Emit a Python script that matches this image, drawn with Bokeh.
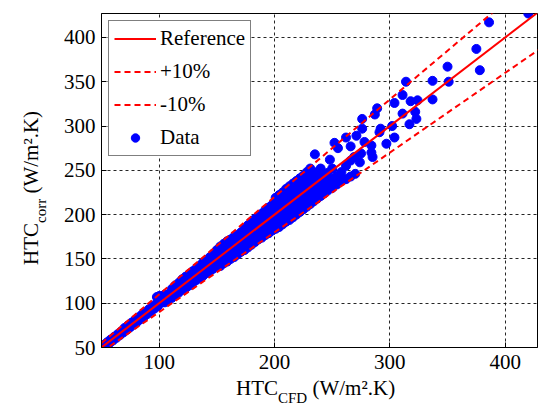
from bokeh.plotting import figure
from bokeh.layouts import column, row
from bokeh.models import Legend, LegendItem, FixedTicker, Range1d, Div
from bokeh.embed import file_html
from bokeh.resources import INLINE

# Heat transfer coefficient: CFD result vs. correlation (W/m2.K)
htc_cfd = [
    51, 52, 54, 55, 57, 58, 60, 61, 63, 64, 66, 67, 69, 70, 72, 73, 75, 76, 78, 79,
    81, 82, 84, 85, 87, 88, 90, 91, 93, 94, 96, 97, 98, 99, 100, 100, 101, 103, 104,
    105, 105, 105, 108, 108, 111, 111, 111, 114, 114, 114, 117, 117, 117, 120, 120, 120,
    123, 123, 123, 126, 126, 126, 129, 129, 129, 132, 132, 132, 135, 135, 135,
    138, 138, 138, 141, 141, 141, 144, 144, 144, 147, 147, 147, 150, 150, 150,
    153, 153, 153, 153, 156, 156, 156, 156, 159, 159, 159, 159, 162, 162, 162, 162, 165, 165, 165, 165,
    168, 168, 168, 168, 171, 171, 171, 171, 174, 174, 174, 174, 177, 177, 177, 177, 180, 180, 180, 180,
    183, 183, 183, 183, 186, 186, 186, 186, 189, 189, 189, 189, 192, 192, 192, 192, 195, 195, 195, 195, 198, 198, 198, 198,
    201, 201, 201, 201, 201, 204, 204, 204, 204, 204, 207, 207, 207, 207, 207, 210, 210, 210, 210, 210, 213, 213, 213, 213, 213,
    216, 216, 216, 216, 216, 219, 219, 219, 219, 219, 222, 222, 222, 222, 222, 225, 225, 225, 225, 225, 228, 228, 228, 228, 228,
    231, 231, 231, 231, 231, 234, 234, 234, 234, 237, 237, 237, 237, 240, 240, 240, 240, 243, 243, 243, 246, 246, 246,
    250, 250, 250, 254, 254, 258, 258, 262, 266, 270,
    420, 386, 375, 378, 350, 351, 337, 314, 337, 311, 318, 324, 304, 289, 287, 311, 322, 323, 317, 302,
    276, 276, 292, 291, 304, 262, 271, 252, 255, 235, 266, 278, 284, 297, 275, 284, 274, 285, 266, 248, 262, 269,
]
htc_corr = [
    50, 53, 52, 56, 55, 59, 58, 62, 61, 65, 64, 68, 67, 72, 70, 75, 73, 78, 76, 81,
    79, 84, 82, 87, 85, 90, 88, 93, 91, 96, 94, 99, 107, 97, 103, 108, 108, 101, 107,
    101, 106, 110, 104, 110, 106, 112, 116, 109, 115, 120, 112, 118, 123, 115, 121, 127,
    117, 124, 130, 120, 127, 133, 123, 130, 136, 126, 133, 139, 128, 136, 142,
    131, 139, 146, 134, 141, 149, 136, 144, 152, 139, 147, 156, 141, 149, 160,
    142, 150, 158, 164, 145, 153, 161, 167, 147, 156, 164, 170, 150, 158, 166, 172, 152, 161, 169, 175,
    155, 164, 172, 177, 158, 167, 175, 180, 160, 170, 178, 184, 163, 172, 181, 188, 166, 175, 184, 192,
    169, 178, 187, 195, 172, 181, 190, 198, 174, 184, 193, 201, 177, 187, 196, 205, 179, 190, 199, 208, 182, 192, 202, 211,
    184, 193, 203, 213, 219, 186, 196, 206, 215, 222, 189, 199, 209, 218, 225, 192, 202, 212, 221, 229, 194, 205, 215, 224, 232,
    197, 208, 218, 227, 235, 200, 211, 221, 230, 238, 203, 214, 224, 233, 241, 206, 216, 227, 236, 244, 209, 219, 230, 239, 248,
    212, 222, 232, 242, 252, 215, 225, 235, 245, 218, 228, 238, 248, 221, 231, 241, 252, 224, 234, 244, 227, 237, 247,
    230, 240, 252, 234, 244, 238, 248, 240, 243, 246,
    427, 417, 387, 363, 367, 350, 351, 350, 330, 335, 328, 329, 326, 320, 313, 314, 316, 308, 302, 300,
    308, 297, 297, 293, 287, 287, 289, 281, 275, 268, 277, 282, 278, 280, 269, 270, 259, 265, 261, 262, 255, 265,
]

# Reference line and +/-10% band
ref_x = [50, 430]
band_factors = {"Reference": 1.0, "+10%": 1.1, "-10%": 0.9}

x_ticks = [100, 200, 300, 400]
y_ticks = [50, 100, 150, 200, 250, 300, 350, 400]

x_title = ("HTC", "CFD", " (W/m\u00b2.K)")
y_title = ("HTC", "corr", " (W/m\u00b2.K)")

SERIF = "Liberation Serif"
PLOT_H = 378

p = figure(width=479, height=PLOT_H, output_backend="svg", toolbar_location=None,
           x_range=Range1d(50, 428), y_range=Range1d(50, 427),
           min_border_left=40, min_border_right=2, min_border_top=13,
           min_border_bottom=31)

p.outline_line_color = "black"
p.outline_line_width = 1
p.background_fill_color = "white"
p.border_fill_color = "white"

for ax in (p.xaxis[0], p.yaxis[0]):
    ax.axis_line_color = "black"
    ax.major_tick_in = 5
    ax.major_tick_out = 0
    ax.minor_tick_line_color = None
    ax.major_label_text_font = SERIF
    ax.major_label_text_font_size = "21px"
    ax.major_label_text_color = "black"
p.xaxis[0].ticker = FixedTicker(ticks=x_ticks)
p.yaxis[0].ticker = FixedTicker(ticks=y_ticks)
p.xaxis[0].major_label_standoff = 7
p.yaxis[0].major_label_standoff = 6

for g in (p.xgrid[0], p.ygrid[0]):
    g.grid_line_color = "black"
    g.grid_line_alpha = 0.85
    g.grid_line_dash = "3 3"
    g.grid_line_width = 1
p.xgrid[0].ticker = FixedTicker(ticks=x_ticks)
p.ygrid[0].ticker = FixedTicker(ticks=y_ticks)

data_r = p.scatter(htc_cfd, htc_corr, marker="circle", size=9,
                   fill_color="#0000ff", line_color="#0000ff")

line_r = {}
for name, k in band_factors.items():
    ys = [k * v for v in ref_x]
    dash = "solid" if k == 1.0 else "6 4"
    line_r[name] = p.line(ref_x, ys, line_color="#ff0000", line_width=2,
                          line_dash=dash)

legend = Legend(items=[
    LegendItem(label="Reference", renderers=[line_r["Reference"]]),
    LegendItem(label="+10%", renderers=[line_r["+10%"]]),
    LegendItem(label="-10%", renderers=[line_r["-10%"]]),
    LegendItem(label="Data", renderers=[data_r]),
], location="top_left")
legend.margin = 7
legend.padding = 5
legend.spacing = 8
legend.glyph_width = 42
legend.glyph_height = 21
legend.label_height = 21
legend.label_standoff = 4
legend.label_text_font = SERIF
legend.label_text_font_size = "21px"
legend.label_text_color = "black"
legend.border_line_color = "black"
legend.border_line_width = 1
legend.background_fill_color = "white"
legend.background_fill_alpha = 1.0
p.add_layout(legend)


def title_html(parts, transform):
    main, sub, rest = parts
    return (
        f'<div style="display:block; white-space:nowrap; transform-origin:0 0; '
        f'transform:{transform}; font-family:\'{SERIF}\'; font-size:21px; '
        f'line-height:24px; color:black; margin:0; padding:0;">'
        f'{main}<span style="font-size:15px; vertical-align:-8px; line-height:15px;">'
        f'{sub}</span>{rest}</div>'
    )


# Axis titles (with subscripts) set as HTML beside and under the plot
y_div = Div(text=title_html(y_title, "translate(19px, 265px) rotate(-90deg)"),
            width=60, height=PLOT_H, margin=0)
x_div = Div(text=title_html(x_title, "translate(236px, -2px)"),
            width=539, height=405 - PLOT_H, margin=0)

layout = column(row(y_div, p, spacing=0), x_div, spacing=0)

open("out.html", "w").write(file_html(layout, INLINE))
